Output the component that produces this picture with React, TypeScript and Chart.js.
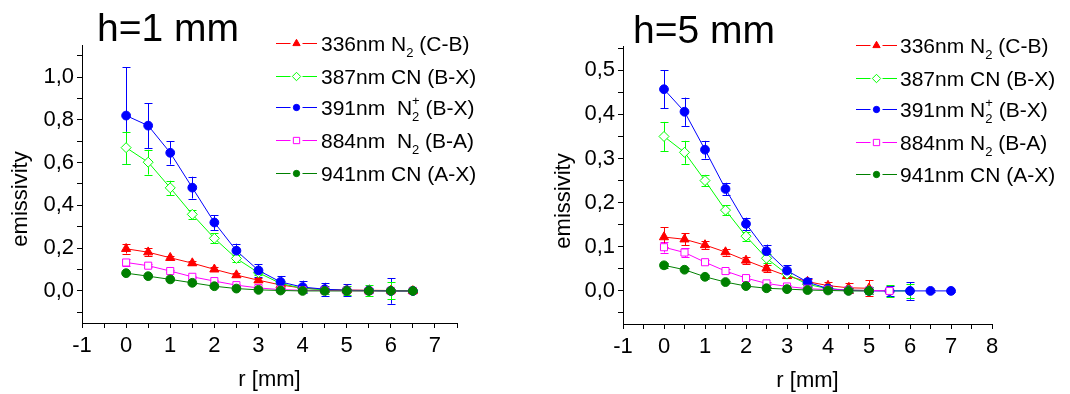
import React, { useEffect, useRef } from 'react';
import { Chart, registerables } from 'chart.js';

Chart.register(...registerables);

const FONT = "'Liberation Sans', Arial, Helvetica, sans-serif";

// ---------- h = 1 mm ----------
const rLeft = [0, 0.5, 1, 1.5, 2, 2.5, 3, 3.5, 4, 4.5, 5, 5.5, 6, 6.5];
const n336Left = [0.197, 0.181, 0.155, 0.130, 0.101, 0.074, 0.050, 0.028, 0.013, 0.007, 0.004, 0.003, 0.002, 0.000];
const n336LeftErr = [0.022, 0.018, 0.010, 0.010, 0.010, 0.009, 0.009, 0.006, 0.005, 0.005, 0.005, 0.005, 0.005, 0.003];
const cn387Left = [0.670, 0.602, 0.482, 0.358, 0.246, 0.152, 0.085, 0.035, 0.012, 0.005, 0.002, 0.002, 0.000, 0.000];
const cn387LeftErr = [0.075, 0.058, 0.033, 0.020, 0.024, 0.016, 0.012, 0.010, 0.010, 0.020, 0.020, 0.028, 0.040, 0.005];
const n2p391Left = [0.820, 0.773, 0.646, 0.483, 0.320, 0.188, 0.096, 0.042, 0.018, 0.008, 0.003, 0.002, 0.000, 0.000];
const n2p391LeftErr = [0.225, 0.105, 0.055, 0.051, 0.035, 0.033, 0.030, 0.028, 0.030, 0.030, 0.028, 0.010, 0.060, 0.003];
const n884Left = [0.133, 0.118, 0.093, 0.066, 0.046, 0.027, 0.014, 0.006, 0.003, 0.002, 0.001, 0.000, 0.000, 0.000];
const n884LeftErr = [0.015, 0.008, 0.006, 0.006, 0.005, 0.005, 0.004, 0.003, 0.003, 0.003, 0.003, 0.003, 0.003, 0.003];
const cn941Left = [0.083, 0.069, 0.054, 0.038, 0.022, 0.011, 0.005, 0.002, 0.000, 0.000, 0.000, 0.000, 0.000, 0.000];
const cn941LeftErr = [0.005, 0.004, 0.004, 0.004, 0.004, 0.004, 0.004, 0.003, 0.003, 0.003, 0.003, 0.003, 0.003, 0.003];

// ---------- h = 5 mm ----------
const rRight = [0, 0.5, 1, 1.5, 2, 2.5, 3, 3.5, 4, 4.5, 5, 5.5, 6, 6.5, 7];
const n336Right = [0.122, 0.117, 0.104, 0.088, 0.069, 0.051, 0.034, 0.021, 0.012, 0.007, 0.006];
const n336RightErr = [0.022, 0.014, 0.009, 0.008, 0.008, 0.008, 0.005, 0.006, 0.008, 0.012, 0.018];
const cn387Right = [0.350, 0.314, 0.250, 0.183, 0.124, 0.074, 0.038, 0.015, 0.005, 0.002, 0.001, 0.000, 0.000];
const cn387RightErr = [0.033, 0.026, 0.013, 0.011, 0.010, 0.010, 0.008, 0.006, 0.005, 0.005, 0.008, 0.013, 0.015];
const n2p391Right = [0.457, 0.406, 0.320, 0.231, 0.152, 0.090, 0.046, 0.020, 0.005, 0.001, 0.000, 0.000, 0.000, 0.000, 0.000];
const n2p391RightErr = [0.043, 0.032, 0.020, 0.014, 0.014, 0.015, 0.012, 0.010, 0.008, 0.006, 0.008, 0.012, 0.020, 0.002, 0.002];
const n884Right = [0.099, 0.087, 0.065, 0.045, 0.029, 0.017, 0.010, 0.005, 0.003, 0.002, 0.001, 0.000];
const n884RightErr = [0.012, 0.010, 0.005, 0.005, 0.004, 0.004, 0.003, 0.003, 0.003, 0.005, 0.005, 0.003];
const cn941Right = [0.058, 0.048, 0.032, 0.020, 0.011, 0.006, 0.004, 0.002, 0.001, 0.000, 0.000];
const cn941RightErr = [0.005, 0.004, 0.004, 0.003, 0.003, 0.003, 0.003, 0.003, 0.003, 0.003, 0.003];

// ---------- ticks ----------
const xTicksLeft = [-1, -0.5, 0, 0.5, 1, 1.5, 2, 2.5, 3, 3.5, 4, 4.5, 5, 5.5, 6, 6.5, 7, 7.5];
const xLabelsLeft = ['-1', '', '0', '', '1', '', '2', '', '3', '', '4', '', '5', '', '6', '', '7', ''];
const yTicksLeft = [-0.1, 0, 0.1, 0.2, 0.3, 0.4, 0.5, 0.6, 0.7, 0.8, 0.9, 1.0, 1.1];
const yLabelsLeft = ['', '0,0', '', '0,2', '', '0,4', '', '0,6', '', '0,8', '', '1,0', ''];

const xTicksRight = [-1, -0.5, 0, 0.5, 1, 1.5, 2, 2.5, 3, 3.5, 4, 4.5, 5, 5.5, 6, 6.5, 7, 7.5, 8];
const xLabelsRight = ['-1', '', '0', '', '1', '', '2', '', '3', '', '4', '', '5', '', '6', '', '7', '', '8'];
const yTicksRight = [-0.05, 0, 0.05, 0.1, 0.15, 0.2, 0.25, 0.3, 0.35, 0.4, 0.45, 0.5, 0.55];
const yLabelsRight = ['', '0,0', '', '0,1', '', '0,2', '', '0,3', '', '0,4', '', '0,5', ''];

// ---------- legend labels ----------
const labelsLeft = ['336nm N_{2} (C-B)', '387nm CN (B-X)', '391nm  N_{2}^{+} (B-X)', '884nm  N_{2} (B-A)', '941nm CN (A-X)'];
const labelsRight = ['336nm N_{2} (C-B)', '387nm CN (B-X)', '391nm N_{2}^{+} (B-X)', '884nm N_{2} (B-A)', '941nm CN (A-X)'];

type Marker = 'triangle' | 'diamond' | 'circle' | 'square';
const styles: { color: string; marker: Marker; filled: boolean }[] = [
  { color: '#ff0000', marker: 'triangle', filled: true },
  { color: '#00ff00', marker: 'diamond', filled: false },
  { color: '#0000ff', marker: 'circle', filled: true },
  { color: '#ff00ff', marker: 'square', filled: false },
  { color: '#008000', marker: 'circle', filled: true },
];

interface PanelCfg {
  width: number;
  title: string;
  titleX: number;
  titleY: number;
  xs: number[];
  series: number[][];
  errors: number[][];
  labels: string[];
  xMin: number; xMax: number; yMin: number; yMax: number;
  xTicks: number[]; xLabels: string[]; yTicks: number[]; yLabels: string[];
  padding: { top: number; right: number; left: number; bottom: number };
  yWidth: number; xHeight: number;
  yTitleX: number; yTitleY: number; xTitleY: number;
  legendLineL: number; legendLineR: number; legendMarkX: number; legendTextX: number; legendRows: number[];
}

const leftCfg: PanelCfg = {
  width: 530,
  title: 'h=1 mm', titleX: 97, titleY: 41,
  xs: rLeft,
  series: [n336Left, cn387Left, n2p391Left, n884Left, cn941Left],
  errors: [n336LeftErr, cn387LeftErr, n2p391LeftErr, n884LeftErr, cn941LeftErr],
  labels: labelsLeft,
  xMin: -1, xMax: 7.5, yMin: -0.15, yMax: 1.15,
  xTicks: xTicksLeft, xLabels: xLabelsLeft, yTicks: yTicksLeft, yLabels: yLabelsLeft,
  padding: { top: 45, right: 73, left: 0, bottom: 0 },
  yWidth: 82, xHeight: 71,
  yTitleX: 21, yTitleY: 199, xTitleY: 380,
  legendLineL: 276, legendLineR: 317, legendMarkX: 296.5, legendTextX: 321,
  legendRows: [43, 76, 107, 140, 173],
};

const rightCfg: PanelCfg = {
  width: 540,
  title: 'h=5 mm', titleX: 103, titleY: 43,
  xs: rRight,
  series: [n336Right, cn387Right, n2p391Right, n884Right, cn941Right],
  errors: [n336RightErr, cn387RightErr, n2p391RightErr, n884RightErr, cn941RightErr],
  labels: labelsRight,
  xMin: -1, xMax: 8, yMin: -0.075, yMax: 0.555,
  xTicks: xTicksRight, xLabels: xLabelsRight, yTicks: yTicksRight, yLabels: yLabelsRight,
  padding: { top: 46, right: 78, left: 0, bottom: 0 },
  yWidth: 93, xHeight: 70,
  yTitleX: 34, yTitleY: 201, xTitleY: 381,
  legendLineL: 326, legendLineR: 367, legendMarkX: 346.5, legendTextX: 370,
  legendRows: [45, 78, 109, 142, 174],
};

function drawMarker(ctx: CanvasRenderingContext2D, m: Marker, x: number, y: number, r: number, color: string, filled: boolean) {
  ctx.beginPath();
  if (m === 'triangle') {
    ctx.moveTo(x, y - r);
    ctx.lineTo(x + r * 0.866, y + r * 0.5);
    ctx.lineTo(x - r * 0.866, y + r * 0.5);
    ctx.closePath();
  } else if (m === 'diamond') {
    ctx.moveTo(x, y - r);
    ctx.lineTo(x + r, y);
    ctx.lineTo(x, y + r);
    ctx.lineTo(x - r, y);
    ctx.closePath();
  } else if (m === 'square') {
    const s = r * 0.75;
    ctx.rect(x - s, y - s, 2 * s, 2 * s);
  } else {
    ctx.arc(x, y, r * 0.75, 0, Math.PI * 2);
  }
  ctx.fillStyle = filled ? color : '#ffffff';
  ctx.fill();
  ctx.strokeStyle = color;
  ctx.lineWidth = 1;
  ctx.stroke();
}

function drawRich(ctx: CanvasRenderingContext2D, text: string, x: number, baseline: number, size: number) {
  const parts = text.split(/(_\{[^}]*\}|\^\{[^}]*\})/).filter((p) => p.length > 0);
  let cx = x;
  let scriptStart = -1;
  let scriptEnd = -1;
  const small = Math.round(size * 0.62);
  for (const p of parts) {
    if (p.startsWith('_{')) {
      const t = p.slice(2, -1);
      ctx.font = `${small}px ${FONT}`;
      ctx.fillText(t, cx, baseline + size * 0.3);
      scriptStart = cx;
      cx += ctx.measureText(t).width;
      scriptEnd = cx;
    } else if (p.startsWith('^{')) {
      const t = p.slice(2, -1);
      ctx.font = `${small}px ${FONT}`;
      const sx = scriptEnd === cx ? scriptStart : cx;
      ctx.fillText(t, sx, baseline - size * 0.45);
      cx = Math.max(cx, sx + ctx.measureText(t).width);
    } else {
      ctx.font = `${size}px ${FONT}`;
      ctx.fillText(p, cx, baseline);
      cx += ctx.measureText(p).width;
      scriptEnd = -1;
    }
  }
}

function makeOverlay(cfg: PanelCfg) {
  return {
    id: 'overlay',
    beforeDatasetsDraw(chart: any) {
      const ctx: CanvasRenderingContext2D = chart.ctx;
      const xs = chart.scales.x;
      const ys = chart.scales.y;
      ctx.save();
      ctx.lineWidth = 1;
      for (let i = cfg.series.length - 1; i >= 0; i--) {
        const vals = cfg.series[i];
        const errs = cfg.errors[i];
        ctx.strokeStyle = styles[i].color;
        ctx.beginPath();
        vals.forEach((v, k) => {
          const e = errs[k];
          if (!e) return;
          const px = Math.round(xs.getPixelForValue(cfg.xs[k])) + 0.5;
          const y1 = ys.getPixelForValue(v + e);
          const y2 = ys.getPixelForValue(v - e);
          ctx.moveTo(px, y1);
          ctx.lineTo(px, y2);
          ctx.moveTo(px - 4, Math.round(y1) + 0.5);
          ctx.lineTo(px + 4, Math.round(y1) + 0.5);
          ctx.moveTo(px - 4, Math.round(y2) + 0.5);
          ctx.lineTo(px + 4, Math.round(y2) + 0.5);
        });
        ctx.stroke();
      }
      ctx.restore();
    },
    afterDraw(chart: any) {
      const ctx: CanvasRenderingContext2D = chart.ctx;
      const area = chart.chartArea;
      ctx.save();
      // legend
      ctx.textAlign = 'left';
      ctx.textBaseline = 'alphabetic';
      cfg.labels.forEach((lab, i) => {
        const y = cfg.legendRows[i];
        const st = styles[i];
        ctx.save();
        ctx.lineWidth = 1;
        ctx.strokeStyle = st.color;
        ctx.beginPath();
        ctx.moveTo(cfg.legendLineL, y + 0.5);
        ctx.lineTo(cfg.legendLineR, y + 0.5);
        ctx.stroke();
        ctx.restore();
        ctx.save();
        ctx.fillStyle = '#ffffff';
        ctx.fillRect(cfg.legendMarkX - 6, y - 5, 12, 11);
        ctx.restore();
        drawMarker(ctx, st.marker, cfg.legendMarkX, y + 0.5, 4.2, st.color, st.filled);
        ctx.fillStyle = '#000000';
        drawRich(ctx, lab, cfg.legendTextX, y + 7.5, 21);
      });
      ctx.fillStyle = '#000000';
      // panel title
      ctx.font = `39px ${FONT}`;
      ctx.textAlign = 'left';
      ctx.textBaseline = 'alphabetic';
      ctx.fillText(cfg.title, cfg.titleX, cfg.titleY);
      // axis titles
      ctx.font = `22px ${FONT}`;
      ctx.textAlign = 'center';
      ctx.textBaseline = 'middle';
      ctx.fillText('r [mm]', (area.left + area.right) / 2, cfg.xTitleY);
      ctx.save();
      ctx.translate(cfg.yTitleX, cfg.yTitleY);
      ctx.rotate(-Math.PI / 2);
      ctx.fillText('emissivity', 0, 0);
      ctx.restore();
      ctx.restore();
    },
  };
}

function Panel({ cfg, left }: { cfg: PanelCfg; left: number }) {
  const ref = useRef<HTMLCanvasElement | null>(null);
  useEffect(() => {
    if (!ref.current) return;
    const n = cfg.series.length;
    const chart = new Chart(ref.current, {
      type: 'line',
      data: {
        datasets: cfg.series.map((vals, i) => {
          const st = styles[i];
          const pointStyle = st.marker === 'diamond' ? 'rectRot' : st.marker === 'square' ? 'rect' : st.marker;
          const radius = st.marker === 'triangle' ? 5.3 : st.marker === 'diamond' ? 5 : st.marker === 'square' ? 5 : 4.4;
          return {
            label: cfg.labels[i],
            data: vals.map((v, k) => ({ x: cfg.xs[k], y: v })),
            borderColor: st.color,
            backgroundColor: st.filled ? st.color : '#ffffff',
            pointBackgroundColor: st.filled ? st.color : '#ffffff',
            pointBorderColor: st.color,
            borderWidth: 1,
            pointBorderWidth: 1,
            pointStyle: pointStyle as any,
            pointRadius: radius,
            tension: 0,
            fill: false,
            order: n - 1 - i,
          };
        }),
      },
      options: {
        animation: false,
        responsive: false,
        maintainAspectRatio: false,
        events: [],
        layout: { padding: cfg.padding },
        plugins: {
          legend: { display: false },
          title: { display: false },
          tooltip: { enabled: false },
        },
        scales: {
          x: {
            type: 'linear',
            min: cfg.xMin,
            max: cfg.xMax,
            afterFit: (s: any) => { s.height = cfg.xHeight; },
            afterBuildTicks: (s: any) => { s.ticks = cfg.xTicks.map((v) => ({ value: v })); },
            ticks: {
              autoSkip: false,
              maxRotation: 0,
              minRotation: 0,
              padding: 5,
              color: '#000',
              font: { family: FONT, size: 22 },
              callback: (_v: any, idx: number) => cfg.xLabels[idx] ?? '',
            },
            grid: { drawOnChartArea: false, drawTicks: true, tickLength: 5, color: '#000' },
            border: { display: true, color: '#000', width: 1 },
          },
          y: {
            type: 'linear',
            min: cfg.yMin,
            max: cfg.yMax,
            afterFit: (s: any) => { s.width = cfg.yWidth; },
            afterBuildTicks: (s: any) => { s.ticks = cfg.yTicks.map((v) => ({ value: v })); },
            ticks: {
              autoSkip: false,
              padding: 3,
              color: '#000',
              font: { family: FONT, size: 22 },
              callback: (_v: any, idx: number) => cfg.yLabels[idx] ?? '',
            },
            grid: { drawOnChartArea: false, drawTicks: true, tickLength: 5, color: '#000' },
            border: { display: true, color: '#000', width: 1 },
          },
        },
      },
      plugins: [makeOverlay(cfg)],
    } as any);
    return () => chart.destroy();
  }, [cfg]);
  return (
    <div style={{ position: 'absolute', left, top: 0, width: cfg.width, height: 394 }}>
      <canvas ref={ref} width={cfg.width} height={394} style={{ display: 'block', width: cfg.width, height: 394 }} />
    </div>
  );
}

export default function App() {
  return (
    <div style={{ position: 'absolute', left: 0, top: 0, width: 1070, height: 394, background: '#fff', overflow: 'hidden' }}>
      <Panel cfg={leftCfg} left={0} />
      <Panel cfg={rightCfg} left={530} />
    </div>
  );
}
